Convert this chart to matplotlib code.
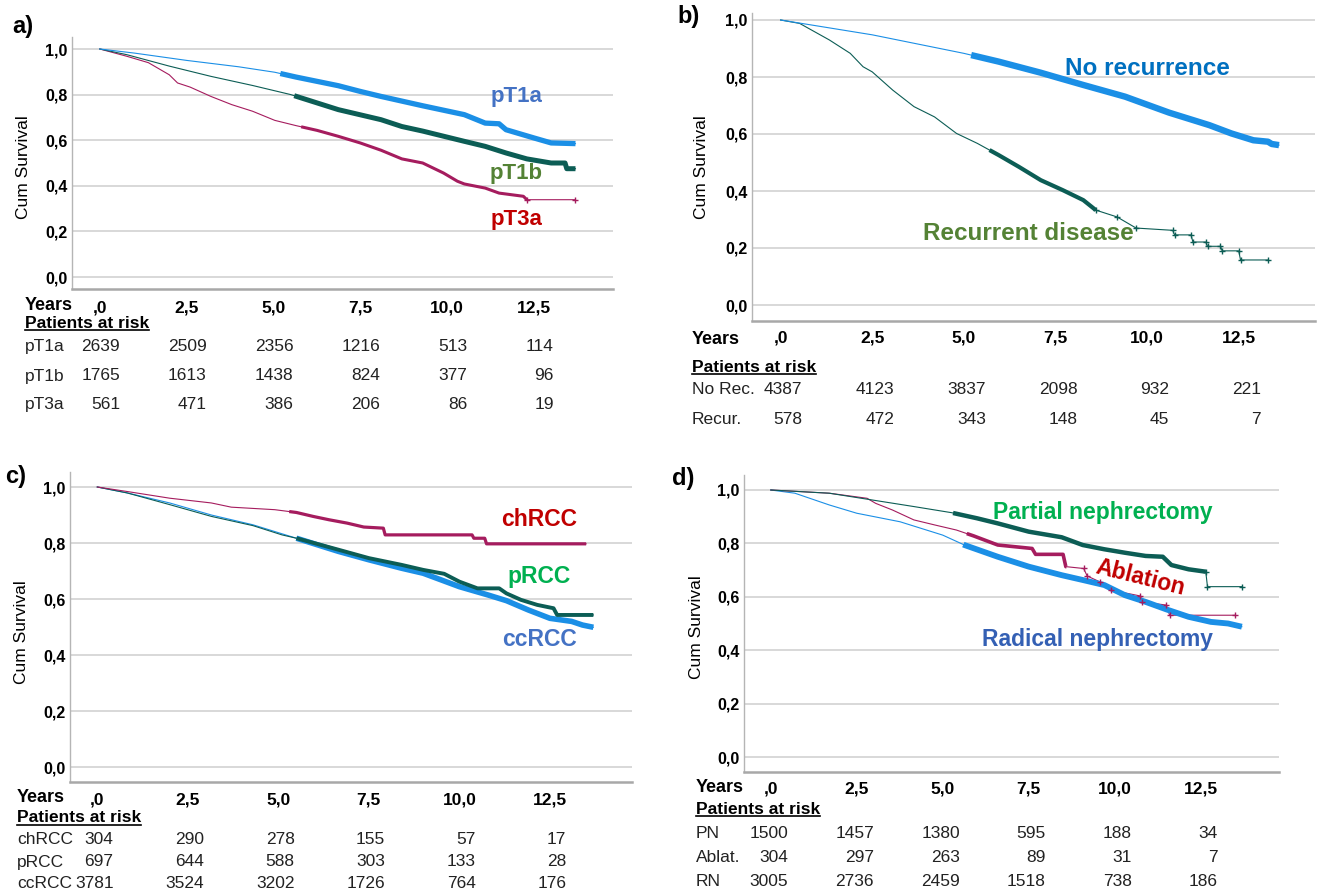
import numpy as np
import matplotlib
matplotlib.use("Agg")
import matplotlib.pyplot as plt
from matplotlib.transforms import blended_transform_factory
from matplotlib.lines import Line2D

plt.rcParams['font.family'] = ['Liberation Sans', 'DejaVu Sans']

W, H = 1317, 894

# ---------------- data ----------------
x_ticks = [0, 2.5, 5.0, 7.5, 10.0, 12.5]
x_tick_labels = [',0', '2,5', '5,0', '7,5', '10,0', '12,5']
y_ticks = [0.0, 0.2, 0.4, 0.6, 0.8, 1.0]
y_tick_labels = ['0,0', '0,2', '0,4', '0,6', '0,8', '1,0']

# Panel a
pT1a_t = [0, 1.0, 2.5, 4.0, 5.04, 5.65, 6.87, 7.5, 8.1, 9.3, 10.5, 11.1, 11.5, 11.7, 12.5, 13.0, 13.7]
pT1a_s = [1.0, 0.982, 0.95, 0.922, 0.898, 0.877, 0.839, 0.814, 0.792, 0.751, 0.712, 0.675, 0.672, 0.646, 0.61, 0.588, 0.585]
pT1b_t = [0, 0.78, 2.0, 3.2, 4.4, 5.5, 6.87, 8.1, 8.7, 9.3, 10.5, 11.1, 11.7, 12.3, 13.0, 13.4, 13.45, 13.7]
pT1b_s = [1.0, 0.975, 0.925, 0.88, 0.84, 0.80, 0.734, 0.69, 0.66, 0.64, 0.595, 0.573, 0.544, 0.518, 0.50, 0.50, 0.475, 0.475]
pT3a_t = [0, 0.78, 1.4, 2.0, 2.24, 2.6, 3.2, 3.8, 4.4, 5.04, 5.65, 6.26, 6.87, 7.5, 8.1, 8.7, 9.3, 9.9, 10.3, 10.5, 11.1, 11.5, 12.2, 12.3, 13.7]
pT3a_s = [1.0, 0.968, 0.94, 0.887, 0.851, 0.833, 0.792, 0.756, 0.727, 0.687, 0.664, 0.643, 0.617, 0.588, 0.556, 0.518, 0.5, 0.456, 0.42, 0.408, 0.39, 0.368, 0.354, 0.339, 0.339]

# Panel b
norec_t = [0, 2.5, 5.0, 5.95, 7.1, 7.5, 8.26, 9.4, 10.0, 10.6, 11.1, 11.7, 12.3, 12.9, 13.3, 13.4, 13.6]
norec_s = [1.0, 0.948, 0.883, 0.854, 0.815, 0.80, 0.772, 0.731, 0.703, 0.675, 0.655, 0.631, 0.602, 0.578, 0.573, 0.565, 0.561]
rec_t = [0, 0.52, 1.33, 1.9, 2.25, 2.5, 3.06, 3.64, 4.2, 4.8, 5.37, 5.95, 6.5, 7.1, 7.7, 8.26, 8.6, 9.18,
         9.7, 10.7, 10.75, 11.2, 11.25, 11.6, 11.65, 12.0, 12.05, 12.5, 12.55, 13.3]
rec_s = [1.0, 0.988, 0.93, 0.883, 0.836, 0.818, 0.754, 0.696, 0.66, 0.602, 0.567, 0.526, 0.485, 0.438, 0.403, 0.368, 0.333, 0.309,
         0.27, 0.262, 0.246, 0.246, 0.221, 0.221, 0.206, 0.206, 0.19, 0.19, 0.158, 0.158]

# Panel c
ch_t = [0, 0.82, 2.0, 3.15, 3.7, 4.9, 5.5, 5.96, 6.4, 6.9, 7.36, 7.9, 7.95, 10.35, 10.4, 10.7, 10.75, 13.5]
ch_s = [1.0, 0.984, 0.96, 0.943, 0.928, 0.919, 0.909, 0.895, 0.883, 0.871, 0.857, 0.853, 0.829, 0.829, 0.817, 0.817, 0.797, 0.797]
pr_t = [0, 0.82, 2.0, 3.15, 4.3, 5.1, 5.5, 6.66, 7.5, 8.4, 9.0, 9.58, 10.0, 10.5, 11.1, 11.3, 11.7, 12.15, 12.6, 12.7, 13.7]
pr_s = [1.0, 0.979, 0.937, 0.895, 0.862, 0.829, 0.817, 0.776, 0.746, 0.722, 0.704, 0.69, 0.662, 0.638, 0.638, 0.62, 0.597, 0.579, 0.567, 0.543, 0.543]
cc_t = [0, 0.82, 2.0, 3.15, 4.3, 5.5, 6.66, 7.5, 8.4, 9.0, 10.0, 10.8, 11.3, 11.9, 12.5, 13.1, 13.4, 13.7]
cc_s = [1.0, 0.979, 0.943, 0.9, 0.865, 0.817, 0.77, 0.74, 0.71, 0.692, 0.644, 0.614, 0.594, 0.561, 0.531, 0.52, 0.507, 0.499]

# Panel d
pn_t = [0, 1.7, 2.93, 4.16, 5.26, 6.0, 6.6, 7.5, 8.46, 9.07, 9.7, 10.3, 10.9, 11.4, 11.65, 12.15, 12.65, 12.7, 13.7]
pn_s = [1.0, 0.988, 0.963, 0.938, 0.915, 0.894, 0.875, 0.844, 0.823, 0.794, 0.778, 0.765, 0.753, 0.75, 0.719, 0.703, 0.694, 0.638, 0.638]
abl_t = [0, 1.7, 2.8, 3.05, 3.54, 4.16, 4.77, 5.4, 5.9, 6.6, 7.6, 7.7, 8.5, 8.58, 9.1, 9.2, 9.57, 9.9, 10.75, 10.8, 11.5, 11.6, 13.5]
abl_s = [1.0, 0.988, 0.969, 0.95, 0.925, 0.888, 0.869, 0.85, 0.828, 0.794, 0.781, 0.759, 0.759, 0.713, 0.706, 0.678, 0.656, 0.625, 0.603, 0.581, 0.569, 0.531, 0.531]
rn_t = [0, 0.7, 1.7, 2.5, 3.76, 5.0, 5.63, 6.6, 7.5, 8.46, 9.07, 9.7, 10.3, 10.9, 11.5, 12.15, 12.8, 13.3, 13.7]
rn_s = [1.0, 0.988, 0.944, 0.913, 0.881, 0.831, 0.794, 0.75, 0.713, 0.681, 0.663, 0.644, 0.606, 0.581, 0.553, 0.525, 0.506, 0.5, 0.488]

# Risk tables
risk_a_groups = ['pT1a', 'pT1b', 'pT3a']
risk_a = [[2639, 2509, 2356, 1216, 513, 114],
          [1765, 1613, 1438, 824, 377, 96],
          [561, 471, 386, 206, 86, 19]]
risk_b_groups = ['No Rec.', 'Recur.']
risk_b = [[4387, 4123, 3837, 2098, 932, 221],
          [578, 472, 343, 148, 45, 7]]
risk_c_groups = ['chRCC', 'pRCC', 'ccRCC']
risk_c = [[304, 290, 278, 155, 57, 17],
          [697, 644, 588, 303, 133, 28],
          [3781, 3524, 3202, 1726, 764, 176]]
risk_d_groups = ['PN', 'Ablat.', 'RN']
risk_d = [[1500, 1457, 1380, 595, 188, 34],
          [304, 297, 263, 89, 31, 7],
          [3005, 2736, 2459, 1518, 738, 186]]

# ---------------- styles ----------------
BLUE = '#1B8FE6'
TEAL = '#0C5D55'
MAG = '#A51C5E'

fig = plt.figure(figsize=(W / 100, H / 100), dpi=100)


def make_axes(left, right, top, bottom, x0, x125, y1, y0):
    ax = fig.add_axes([left / W, 1 - bottom / H, (right - left) / W, (bottom - top) / H])
    k = (x125 - x0) / 12.5
    u = y0 - y1
    ax.set_xlim((left - x0) / k, (right - x0) / k)
    ax.set_ylim((y0 - bottom) / u, 1 + (y1 - top) / u)
    for s in ['top', 'right']:
        ax.spines[s].set_visible(False)
    ax.spines['left'].set_color('#B5B5B5')
    ax.spines['left'].set_linewidth(1.0)
    ax.spines['bottom'].set_color('#A8A8A8')
    ax.spines['bottom'].set_linewidth(1.8)
    ax.set_yticks(y_ticks)
    ax.set_yticklabels(y_tick_labels, fontweight='bold', fontsize=11.5)
    ax.set_xticks(x_ticks)
    ax.set_xticklabels(x_tick_labels, fontweight='bold', fontsize=12.5)
    ax.tick_params(axis='both', length=0)
    ax.tick_params(axis='y', pad=3)
    ax.grid(axis='y', color='#D6D6D6', linewidth=1.3)
    ax.set_axisbelow(True)
    return ax


def curve(ax, t, s, color, cstart, cend, lw_thick, tail_marks=False):
    t = np.asarray(t, float)
    s = np.asarray(s, float)
    ax.plot(t, s, color=color, lw=0.8, solid_joinstyle='miter', zorder=3)
    m = (t > cstart) & (t < cend)
    tt = np.concatenate([[cstart], t[m], [cend]])
    ss = np.concatenate([[np.interp(cstart, t, s)], s[m], [np.interp(cend, t, s)]])
    ax.plot(tt, ss, color=color, lw=lw_thick, solid_capstyle='butt', zorder=4)
    if tail_marks:
        mt = t >= cend
        ax.plot(t[mt], s[mt], linestyle='none', marker='+', ms=5, mew=1.0, color=color, zorder=4)


def ftext(x, y, s, **kw):
    return fig.text(x / W, 1 - y / H, s, **kw)


def risk_table(ax, groups, rows, label_x, years_y, par_y, row_ys, num_off):
    ftext(label_x, years_y, 'Years', fontsize=13, fontweight='bold', va='center', ha='left')
    t = ftext(label_x, par_y, 'Patients at risk', fontsize=12.5, fontweight='bold', va='center', ha='left')
    tr = blended_transform_factory(ax.transData, fig.transFigure)
    for g, row, yy in zip(groups, rows, row_ys):
        ftext(label_x, yy, g, fontsize=12.5, va='center', ha='left', color='#222222')
        for xt, n in zip(x_ticks, row):
            ax.text(xt + num_off, 1 - yy / H, str(n), transform=tr, fontsize=12.5,
                    va='center', ha='right', color='#222222', clip_on=False)
    return t


def cum_label(x, y):
    ftext(x, y, 'Cum Survival', rotation=90, fontsize=12.5, va='center', ha='center')


underline_texts = []

# ---------- Panel a ----------
axa = make_axes(72, 613, 37, 289, 99.8, 533.8, 49, 277)
axa.tick_params(axis='x', pad=8)
curve(axa, pT3a_t, pT3a_s, MAG, 5.8, 12.3, 2.2, tail_marks=True)
curve(axa, pT1b_t, pT1b_s, TEAL, 5.6, 13.7, 3.6)
curve(axa, pT1a_t, pT1a_s, BLUE, 5.2, 13.7, 3.8)
axa.text(12.0, 0.79, 'pT1a', color='#4472C4', fontsize=16, fontweight='bold', ha='center', va='center')
axa.text(12.0, 0.455, 'pT1b', color='#548235', fontsize=16, fontweight='bold', ha='center', va='center')
axa.text(12.0, 0.25, 'pT3a', color='#C00000', fontsize=16, fontweight='bold', ha='center', va='center')
cum_label(24, 167)
ftext(12, 27, 'a)', fontsize=17, fontweight='bold', va='center', ha='left')
underline_texts.append(risk_table(axa, risk_a_groups, risk_a, 25, 306, 323, [346, 376, 405], 0.58))

# ---------- Panel b ----------
axb = make_axes(752, 1315, 13, 321, 780.6, 1238.7, 20, 305)
axb.tick_params(axis='x', pad=7)
curve(axb, rec_t, rec_s, TEAL, 5.7, 8.6, 3.0, tail_marks=True)
curve(axb, norec_t, norec_s, BLUE, 5.2, 13.6, 4.6)
axb.text(10.0, 0.83, 'No recurrence', color='#0070C0', fontsize=17.5, fontweight='bold', ha='center', va='center')
axb.text(6.75, 0.25, 'Recurrent disease', color='#548235', fontsize=17.5, fontweight='bold', ha='center', va='center')
cum_label(702, 167)
ftext(677, 16, 'b)', fontsize=17, fontweight='bold', va='center', ha='left')
underline_texts.append(risk_table(axb, risk_b_groups, risk_b, 692, 340, 367, [390, 420], 0.6))

# ---------- Panel c ----------
axc = make_axes(69.8, 631.6, 472, 782, 97.3, 549.9, 487, 767)
axc.tick_params(axis='x', pad=7.5)
curve(axc, cc_t, cc_s, BLUE, 5.5, 13.7, 4.0)
curve(axc, pr_t, pr_s, TEAL, 5.5, 13.7, 2.8)
curve(axc, ch_t, ch_s, MAG, 5.3, 13.5, 2.3)
axc.text(12.2, 0.885, 'chRCC', color='#C00000', fontsize=16.5, fontweight='bold', ha='center', va='center')
axc.text(12.2, 0.68, 'pRCC', color='#00B050', fontsize=16.5, fontweight='bold', ha='center', va='center')
axc.text(12.2, 0.455, 'ccRCC', color='#4472C4', fontsize=16.5, fontweight='bold', ha='center', va='center')
cum_label(21, 632)
ftext(5, 477, 'c)', fontsize=17, fontweight='bold', va='center', ha='left')
underline_texts.append(risk_table(axc, risk_c_groups, risk_c, 17, 797, 818, [840, 862, 884], 0.45))

# ---------- Panel d ----------
axd = make_axes(743.8, 1278.9, 475, 772, 770.8, 1200.6, 490, 757)
axd.tick_params(axis='x', pad=7)
curve(axd, rn_t, rn_s, BLUE, 5.6, 13.7, 4.2)
curve(axd, abl_t, abl_s, MAG, 5.7, 8.6, 2.6, tail_marks=True)
curve(axd, pn_t, pn_s, TEAL, 5.3, 12.65, 3.2, tail_marks=True)
axd.text(9.65, 0.915, 'Partial nephrectomy', color='#00B050', fontsize=16.5, fontweight='bold', ha='center', va='center')
axd.text(10.75, 0.67, 'Ablation', color='#C00000', fontsize=16.5, fontweight='bold', ha='center', va='center', rotation=-14)
axd.text(9.5, 0.44, 'Radical nephrectomy', color='#3460B4', fontsize=16.5, fontweight='bold', ha='center', va='center')
cum_label(697, 627)
ftext(672, 478, 'd)', fontsize=17, fontweight='bold', va='center', ha='left')
underline_texts.append(risk_table(axd, risk_d_groups, risk_d, 696, 788, 809, [834, 857, 881], 0.5))

# underline "Patients at risk"
fig.canvas.draw()
r = fig.canvas.get_renderer()
for t in underline_texts:
    bb = t.get_window_extent(renderer=r)
    yline = bb.y0 + 1
    fig.add_artist(Line2D([bb.x0 / W, bb.x1 / W], [yline / H, yline / H], color='black', lw=1.2,
                          transform=fig.transFigure))

fig.savefig('out.png', dpi=100)
